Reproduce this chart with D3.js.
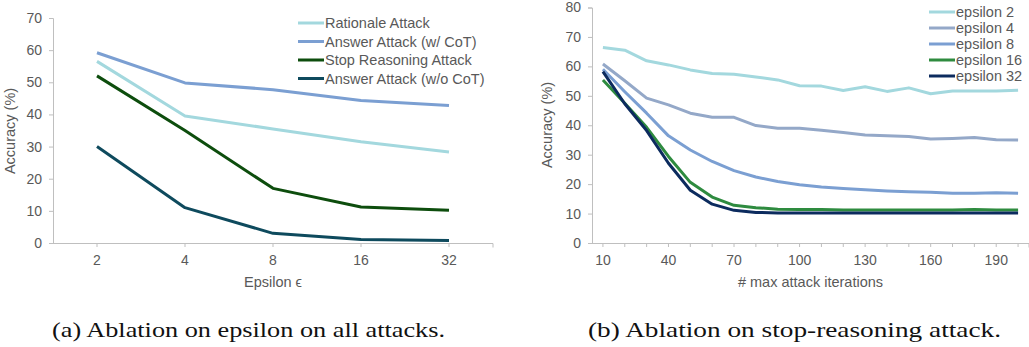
<!DOCTYPE html>
<html>
<head>
<meta charset="utf-8">
<script src="https://cdn.jsdelivr.net/npm/d3@7"></script>
<style>
  body { margin: 0; background: #fff; }
  svg { display: block; }
  .tick text { font-family: "Liberation Sans", Arial, sans-serif; fill: #595959; }
</style>
</head>
<body>
<script>
// ---- left chart data (epsilon ablation) ----
const epsCats = ["2", "4", "8", "16", "32"];
const rationaleAttack = [56.5, 39.5, 35.5, 31.5, 28.3];
const answerWithCoT = [59.2, 49.8, 47.7, 44.3, 42.8];
const stopReasoning = [52, 35, 17, 11.2, 10.2];
const answerNoCoT = [30, 11, 3, 1.1, 0.8];
const leftNames = ["Rationale Attack", "Answer Attack (w/ CoT)", "Stop Reasoning Attack", "Answer Attack (w/o CoT)"];
const leftTicks = [0, 10, 20, 30, 40, 50, 60, 70];

// ---- right chart data (iterations ablation) ----
const iterCats = [10, 20, 30, 40, 50, 60, 70, 80, 90, 100, 110, 120, 130, 140, 150, 160, 170, 180, 190, 200];
const iterLabels = [10, 40, 70, 100, 130, 160, 190];
const eps2 = [66.4, 65.5, 61.9, 60.5, 58.8, 57.6, 57.3, 56.4, 55.4, 53.4, 53.3, 51.8, 53.1, 51.5, 52.7, 50.7, 51.6, 51.6, 51.6, 51.9];
const eps4 = [60.8, 55.1, 49.2, 46.9, 44.1, 42.7, 42.7, 39.9, 39.0, 39.0, 38.3, 37.5, 36.7, 36.4, 36.2, 35.3, 35.5, 35.8, 35.1, 35.0];
const eps8 = [59.0, 51.4, 44.1, 36.4, 31.6, 27.7, 24.6, 22.4, 20.9, 19.8, 19.0, 18.5, 18.1, 17.7, 17.4, 17.2, 16.9, 16.9, 17.1, 16.9];
const eps16 = [55.4, 47.5, 39.3, 29.4, 20.6, 15.6, 12.8, 12.0, 11.5, 11.4, 11.4, 11.2, 11.2, 11.2, 11.2, 11.2, 11.2, 11.4, 11.2, 11.2];
const eps32 = [58.2, 47.3, 38.2, 27.1, 17.9, 13.2, 11.1, 10.4, 10.2, 10.2, 10.2, 10.2, 10.2, 10.2, 10.2, 10.2, 10.2, 10.2, 10.2, 10.2];
const rightNames = ["epsilon 2", "epsilon 4", "epsilon 8", "epsilon 16", "epsilon 32"];
const rightTicks = [0, 10, 20, 30, 40, 50, 60, 70, 80];

const captions = ["(a) Ablation on epsilon on all attacks.", "(b) Ablation on stop-reasoning attack."];

const W = 1029, H = 347;
const axisColor = "#bfbfbf", textColor = "#595959";
const sans = '"Liberation Sans", Arial, sans-serif';

const svg = d3.select("body").append("svg").attr("width", W).attr("height", H);

function drawPanel(opt) {
  const g = svg.append("g");
  const x = d3.scaleBand().domain(opt.cats).range([opt.x0, opt.x1]);
  const y = d3.scaleLinear().domain([0, opt.ymax]).range([opt.y0, opt.y1]);
  const cx = d => x(d) + x.bandwidth() / 2;

  // y axis
  const yAxis = g.append("g")
    .attr("transform", `translate(${opt.x0},0)`)
    .call(d3.axisLeft(y).tickValues(opt.yticks).tickSize(4).tickPadding(7));
  yAxis.selectAll("path, line").attr("stroke", axisColor);
  yAxis.selectAll("text").style("font-size", "14px");

  // x axis: ticks at category centres, labels only for some
  const xAxis = g.append("g")
    .attr("transform", `translate(0,${opt.y0})`)
    .call(d3.axisBottom(x).tickSize(4).tickPadding(8)
      .tickFormat(d => opt.labelSet.includes(d) ? d : ""));
  xAxis.select(".domain").attr("d", `M${opt.x0 - 4},0.5H${opt.x1}V4.5`);
  xAxis.selectAll("path, line").attr("stroke", axisColor);
  xAxis.selectAll("text").style("font-size", "14px");

  // lines
  const line = d3.line().x((d, i) => cx(opt.cats[i])).y(d => y(d));
  opt.series.forEach((s, k) => {
    g.append("path").datum(s)
      .attr("d", line)
      .attr("fill", "none")
      .attr("stroke", opt.colors[k])
      .attr("stroke-width", 3)
      .attr("stroke-linejoin", "round");
  });

  // axis titles
  g.append("text")
    .attr("x", (opt.x0 + opt.x1) / 2).attr("y", opt.y0 + 44)
    .attr("text-anchor", "middle")
    .style("font-family", sans).style("font-size", "14.5px").attr("fill", textColor)
    .text(opt.xtitle);
  g.append("text")
    .attr("transform", `translate(${opt.ytitleX},${opt.ytitleY}) rotate(-90)`)
    .attr("text-anchor", "middle")
    .style("font-family", sans).style("font-size", "14.5px").attr("fill", textColor)
    .text("Accuracy (%)");

  // legend
  opt.names.forEach((n, k) => {
    const ly = opt.legY + k * opt.legStep;
    g.append("line")
      .attr("x1", opt.legX).attr("x2", opt.legX + 26)
      .attr("y1", ly).attr("y2", ly)
      .attr("stroke", opt.colors[k]).attr("stroke-width", 3);
    g.append("text")
      .attr("x", opt.legX + 27).attr("y", ly + 5)
      .style("font-family", sans).style("font-size", "14.5px").attr("fill", textColor)
      .text(n);
  });
}

drawPanel({
  cats: epsCats, labelSet: epsCats, ymax: 70, yticks: leftTicks,
  x0: 53, x1: 493, y0: 243, y1: 18,
  series: [rationaleAttack, answerWithCoT, stopReasoning, answerNoCoT],
  colors: ["#a3d8de", "#7b9fd2", "#0d4d0d", "#0e4a5d"],
  names: leftNames, legX: 298, legY: 23, legStep: 18.5,
  xtitle: "Epsilon \u03f5", ytitleX: 15, ytitleY: 131
});

drawPanel({
  cats: iterCats, labelSet: iterLabels, ymax: 80, yticks: rightTicks,
  x0: 592, x1: 1029, y0: 243, y1: 7.5,
  series: [eps2, eps4, eps8, eps16, eps32],
  colors: ["#a3d8de", "#94a8c8", "#7b9fd2", "#2e8b3f", "#0c2b5e"],
  names: rightNames, legX: 929, legY: 12, legStep: 16,
  xtitle: "# max attack iterations", ytitleX: 552, ytitleY: 125
});

// captions
[[52, 445], [588, 1001]].forEach((r, i) => {
  svg.append("text")
    .attr("x", r[0]).attr("y", 337)
    .attr("textLength", r[1] - r[0]).attr("lengthAdjust", "spacingAndGlyphs")
    .style("font-family", '"Liberation Serif", "Times New Roman", serif')
    .style("font-size", "22px").attr("fill", "#111")
    .text(captions[i]);
});
</script>
</body>
</html>
